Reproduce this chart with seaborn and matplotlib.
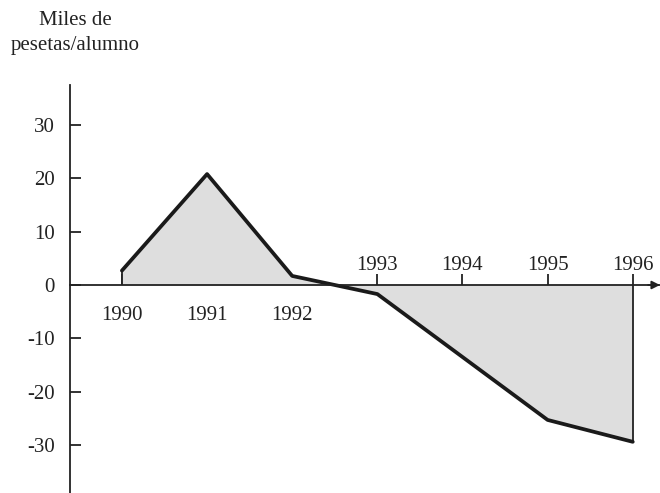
import matplotlib
matplotlib.use("Agg")
import matplotlib.pyplot as plt
import seaborn as sns
import pandas as pd

years = [1990, 1991, 1992, 1993, 1995, 1996]
values = [2.7, 20.8, 1.7, -1.7, -25.3, -29.4]
tick_years = [1990, 1991, 1992, 1993, 1994, 1995, 1996]
y_ticks = [-30, -20, -10, 0, 10, 20, 30]
y_label = "Miles de\npesetas/alumno"

sns.set_theme(style="white")
plt.rcParams['font.family'] = ['Liberation Serif', 'DejaVu Serif']

FS = 15

df = pd.DataFrame({"year": years, "value": values})

fig = plt.figure(figsize=(6.6, 4.93), dpi=100)
ax = fig.add_axes([70/660, 0.0, 590/660, (493-85)/493])

ax.fill_between(df["year"], df["value"], 0, interpolate=True,
                color="#dedede", linewidth=0, zorder=1)
ax.vlines([years[0], years[-1]], [0, 0], [values[0], values[-1]],
          color="#222222", linewidth=1.3, zorder=2)
sns.lineplot(data=df, x="year", y="value", ax=ax, color="#1a1a1a",
             linewidth=2.7, zorder=3)

ax.set_xlim(1989.39, 1996.32)
ax.set_ylim(-39.0, 37.5)

for s in ["top", "right"]:
    ax.spines[s].set_visible(False)
ax.spines["bottom"].set_position(("data", 0))
ax.spines["left"].set_position(("data", 1989.39))
for s in ["bottom", "left"]:
    ax.spines[s].set_color("#222222")
    ax.spines[s].set_linewidth(1.3)
ax.spines["bottom"].set_zorder(4)

ax.set_yticks(y_ticks)
ax.set_yticklabels([str(v) for v in y_ticks], fontsize=FS, color="#222222")
ax.tick_params(axis="y", direction="in", length=8, width=1.3, color="#222222",
               pad=11, left=True)
ax.set_xticks(tick_years)
ax.set_xticklabels([])
ax.tick_params(axis="x", direction="in", length=8, width=1.3, color="#222222",
               bottom=True)

for yr in tick_years:
    if yr <= 1992:
        ax.annotate(str(yr), xy=(yr, 0), xytext=(0, -15), textcoords="offset points",
                    ha="center", va="top", fontsize=FS, color="#222222")
    else:
        ax.annotate(str(yr), xy=(yr, 0), xytext=(0, 7.5), textcoords="offset points",
                    ha="center", va="bottom", fontsize=FS, color="#222222")

ax.annotate("", xy=(1996.32, 0), xytext=(1996.18, 0),
            arrowprops=dict(arrowstyle="-|>", color="#222222", lw=1.3,
                            mutation_scale=12, shrinkA=0, shrinkB=0))

ax.set_xlabel("")
ax.set_ylabel("")
fig.text(75/660, 1 - 11/493, y_label, ha="center", va="top", fontsize=FS,
         color="#222222", linespacing=1.45)

fig.savefig("out.png", dpi=100)
